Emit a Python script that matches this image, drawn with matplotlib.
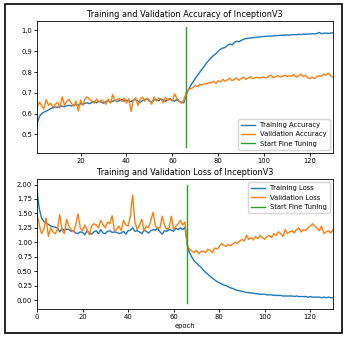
import matplotlib
matplotlib.use('Agg')
import matplotlib.pyplot as plt
from matplotlib.patches import Rectangle
from matplotlib.ticker import MultipleLocator, FormatStrFormatter

# --- datos (epocas 0..130) ---
acc = [0.466, 0.55, 0.585, 0.60, 0.607, 0.612, 0.618, 0.625, 0.628, 0.632,
       0.630, 0.634, 0.636, 0.633, 0.638, 0.640, 0.637, 0.642, 0.645, 0.640,
       0.648, 0.645, 0.650, 0.652, 0.648, 0.655, 0.658, 0.652, 0.660, 0.655,
       0.650, 0.658, 0.662, 0.655, 0.660, 0.664, 0.658, 0.663, 0.668, 0.660,
       0.665, 0.662, 0.658, 0.665, 0.668, 0.660, 0.655, 0.663, 0.668, 0.672,
       0.660, 0.655, 0.665, 0.668, 0.662, 0.670, 0.665, 0.660, 0.668, 0.672,
       0.665, 0.660, 0.668, 0.658, 0.655, 0.652,
       0.690, 0.715, 0.735, 0.752,
       0.770, 0.785, 0.800, 0.815, 0.828, 0.845, 0.858, 0.870, 0.880, 0.888,
       0.900, 0.910, 0.915, 0.918, 0.928, 0.935, 0.930, 0.942, 0.948, 0.945,
       0.952, 0.957, 0.960, 0.962, 0.963, 0.965, 0.966, 0.967, 0.968, 0.970,
       0.971, 0.971, 0.973, 0.972, 0.974, 0.975, 0.975, 0.976, 0.977, 0.976,
       0.978, 0.977, 0.979, 0.980, 0.979, 0.981, 0.980, 0.982, 0.981, 0.983,
       0.982, 0.984, 0.983, 0.985, 0.990, 0.984, 0.986, 0.987, 0.985, 0.987, 0.988]

val_acc = [0.620, 0.630, 0.655, 0.640, 0.622, 0.668, 0.640, 0.650, 0.630, 0.645,
           0.655, 0.628, 0.682, 0.640, 0.660, 0.668, 0.650, 0.635, 0.660, 0.612,
           0.665, 0.640, 0.672, 0.680, 0.668, 0.660, 0.650, 0.670, 0.655, 0.665,
           0.660, 0.645, 0.670, 0.650, 0.692, 0.660, 0.668, 0.672, 0.658, 0.675,
           0.650, 0.672, 0.610, 0.665, 0.676, 0.640, 0.670, 0.680, 0.660, 0.675,
           0.665, 0.645, 0.680, 0.660, 0.675, 0.670, 0.652, 0.678, 0.665, 0.670,
           0.660, 0.695, 0.672, 0.660, 0.650, 0.665,
           0.700, 0.715, 0.720, 0.725,
           0.735, 0.730, 0.740, 0.738, 0.745, 0.742, 0.750, 0.748, 0.755, 0.745,
           0.758, 0.752, 0.765, 0.755, 0.762, 0.770, 0.758, 0.765, 0.772, 0.760,
           0.768, 0.775, 0.765, 0.770, 0.778, 0.768, 0.772, 0.775, 0.770, 0.775,
           0.775, 0.772, 0.780, 0.785, 0.772, 0.778, 0.782, 0.776, 0.780, 0.785,
           0.778, 0.782, 0.780, 0.788, 0.775, 0.782, 0.790, 0.778, 0.785, 0.772,
           0.770, 0.775, 0.768, 0.778, 0.782, 0.780, 0.790, 0.785, 0.795, 0.782, 0.775]

loss = [1.90, 1.58, 1.42, 1.36, 1.33, 1.31, 1.28, 1.27, 1.26, 1.25,
        1.18, 1.24, 1.20, 1.23, 1.22, 1.19, 1.20, 1.16, 1.15, 1.18,
        1.17, 1.13, 1.20, 1.16, 1.14, 1.18, 1.20, 1.15, 1.22, 1.16,
        1.15, 1.19, 1.20, 1.17, 1.18, 1.17, 1.15, 1.16, 1.19, 1.14,
        1.20, 1.21, 1.25, 1.19, 1.20, 1.18, 1.15, 1.21, 1.19, 1.16,
        1.20, 1.22, 1.21, 1.24, 1.18, 1.14, 1.20, 1.19, 1.22, 1.21,
        1.19, 1.24, 1.22, 1.25, 1.22, 1.26,
        0.95, 0.82, 0.74, 0.68,
        0.64, 0.60, 0.57, 0.52, 0.48, 0.45, 0.41, 0.38, 0.35, 0.32,
        0.30, 0.28, 0.26, 0.25, 0.23, 0.21, 0.20, 0.18, 0.17, 0.16,
        0.15, 0.14, 0.13, 0.13, 0.12, 0.12, 0.11, 0.11, 0.10, 0.10,
        0.10, 0.09, 0.09, 0.09, 0.08, 0.08, 0.08, 0.08, 0.07, 0.07,
        0.07, 0.07, 0.07, 0.06, 0.07, 0.06, 0.06, 0.06, 0.06, 0.05,
        0.06, 0.05, 0.05, 0.05, 0.05, 0.04, 0.05, 0.04, 0.05, 0.04, 0.04]

val_loss = [1.50, 1.30, 1.15, 1.22, 1.42, 1.10, 1.25, 1.18, 1.15, 1.22,
            1.48, 1.20, 1.15, 1.40, 1.28, 1.22, 1.18, 1.30, 1.49, 1.25,
            1.20, 1.30, 1.22, 1.13, 1.28, 1.32, 1.30, 1.25, 1.38, 1.30,
            1.25, 1.35, 1.32, 1.46, 1.20, 1.22, 1.28, 1.20, 1.38, 1.30,
            1.28, 1.45, 1.82, 1.35, 1.22, 1.30, 1.40, 1.20, 1.28, 1.25,
            1.38, 1.52, 1.28, 1.25, 1.25, 1.45, 1.30, 1.22, 1.25, 1.45,
            1.22, 1.28, 1.32, 1.38, 1.30, 1.35,
            0.95, 0.88, 0.85, 0.82,
            0.86, 0.80, 0.84, 0.85, 0.82, 0.88, 0.86, 0.82, 0.90, 0.88,
            0.92, 0.98, 0.95, 0.93, 0.96, 0.94, 0.97, 1.00, 0.98, 1.02,
            1.05, 1.02, 1.12, 1.05, 1.08, 1.04, 1.10, 1.06, 1.12, 1.08,
            1.05, 1.10, 1.12, 1.08, 1.15, 1.12, 1.18, 1.15, 1.10, 1.22,
            1.15, 1.18, 1.20, 1.16, 1.22, 1.25, 1.18, 1.22, 1.20, 1.25,
            1.28, 1.32, 1.28, 1.25, 1.20, 1.28, 1.15, 1.18, 1.20, 1.16, 1.22]

inicio_fine = 66
epocas = list(range(len(acc)))

W, H = 348, 339
fig = plt.figure(figsize=(W / 100, H / 100), dpi=100)

lw = 1.0
fs_tick = 4.9
fs_leg = 4.9
fs_title = 5.9

# --- Precision ---
ax1 = fig.add_axes([37 / W, 1 - 153 / H, 296 / W, 132 / H])
ax1.plot(epocas, acc, lw=lw, label='Training Accuracy')
ax1.plot(epocas, val_acc, lw=lw, label='Validation Accuracy')
ax1.plot([inicio_fine, inicio_fine], ax1.get_ylim(), lw=lw, label='Start Fine Tuning')
ax1.set_xlim(1, 130)
ax1.yaxis.set_major_locator(MultipleLocator(0.1))
ax1.legend(loc='lower right', fontsize=fs_leg)
ax1.set_title('Training and Validation Accuracy of InceptionV3', fontsize=fs_title, pad=3)
ax1.tick_params(labelsize=fs_tick, length=2, width=0.6, pad=1.5)

# --- Perdida ---
ax2 = fig.add_axes([37 / W, 1 - 309 / H, 296 / W, 130 / H])
ax2.plot(epocas, loss, lw=lw, label='Training Loss')
ax2.plot(epocas, val_loss, lw=lw, label='Validation Loss')
ax2.plot([inicio_fine, inicio_fine], ax2.get_ylim(), lw=lw, label='Start Fine Tuning')
ax2.set_xlim(0, 130)
ax2.yaxis.set_major_locator(MultipleLocator(0.25))
ax2.yaxis.set_major_formatter(FormatStrFormatter('%.2f'))
ax2.legend(loc='upper right', fontsize=fs_leg)
ax2.set_title('Training and Validation Loss of InceptionV3', fontsize=fs_title, pad=3)
ax2.set_xlabel('epoch', fontsize=fs_tick, labelpad=2.5)
ax2.tick_params(labelsize=fs_tick, length=2, width=0.6, pad=1.5)

for ax in (ax1, ax2):
    for s in ax.spines.values():
        s.set_linewidth(0.6)

# marco negro alrededor de la figura
fig.patches.append(Rectangle((5 / W, 1 - 333 / H), 337 / W, 329 / H,
                             transform=fig.transFigure, fill=False,
                             edgecolor='black', linewidth=1.2))

fig.savefig('out.png', dpi=100)
